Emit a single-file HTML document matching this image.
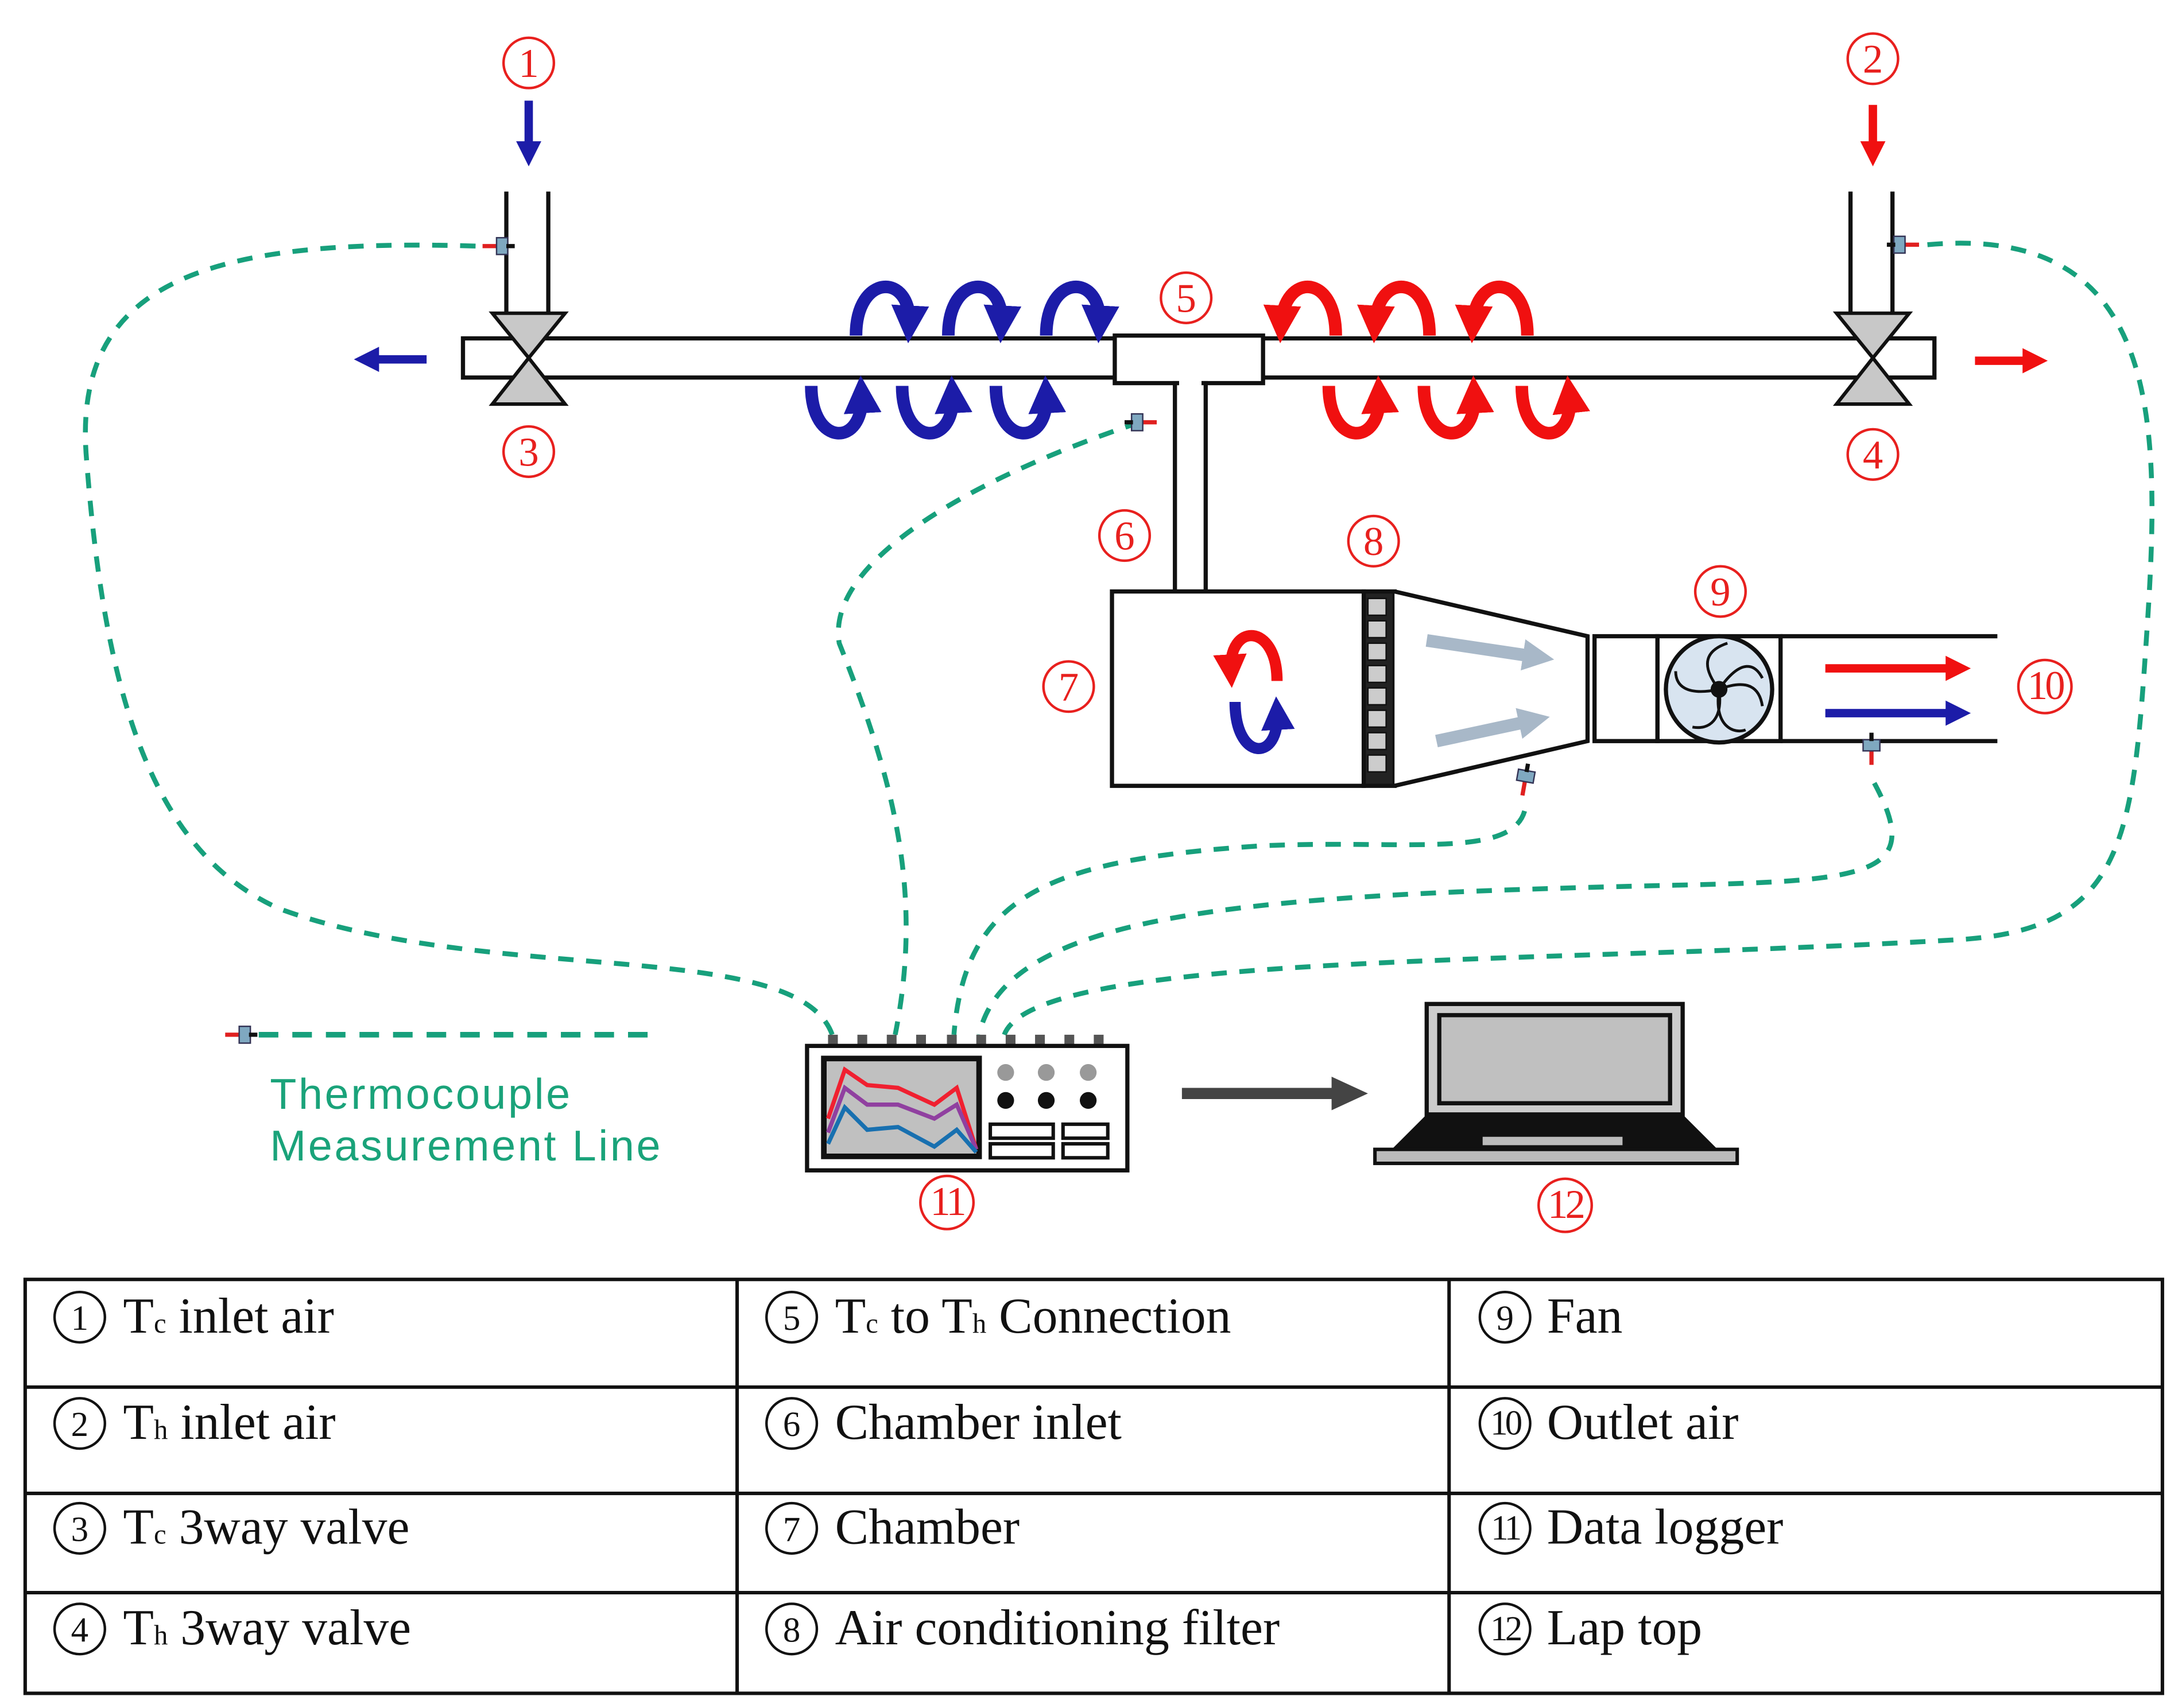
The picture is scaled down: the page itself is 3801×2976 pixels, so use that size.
<!DOCTYPE html>
<html><head><meta charset="utf-8"><style>
html,body{margin:0;padding:0;background:#fff;}
svg{display:block;}
.lt{font-family:"Liberation Serif","DejaVu Serif",serif;fill:#e8201e;font-size:29px;text-anchor:middle;}
.lc{fill:none;stroke:#e8201e;stroke-width:1.8;}
.tt{font-family:"Liberation Serif","DejaVu Serif",serif;font-size:25px;fill:#111;text-anchor:middle;}
.tc{fill:none;stroke:#111;stroke-width:1.8;}
.tb{font-family:"Liberation Serif","DejaVu Serif",serif;font-size:36px;fill:#111;}
.dl{fill:none;stroke:#17a07c;stroke-width:3.5;stroke-dasharray:11 9;}
</style></head><body>
<svg width="3801" height="2976" viewBox="0 0 1560 1221.5" preserveAspectRatio="none" xmlns="http://www.w3.org/2000/svg">
<defs>
<marker id="ab" viewBox="0 0 10 10" refX="5" refY="5" markerWidth="3" markerHeight="3" orient="auto"><path d="M0,0L10,5L0,10z" fill="#1c1ca8"/></marker>
<marker id="ar" viewBox="0 0 10 10" refX="5" refY="5" markerWidth="3" markerHeight="3" orient="auto"><path d="M0,0L10,5L0,10z" fill="#f01010"/></marker>
<marker id="ag" viewBox="0 0 10 10" refX="5" refY="5" markerWidth="2.5" markerHeight="2.5" orient="auto"><path d="M0,0L10,5L0,10z" fill="#a8b8c8"/></marker>
<g id="sens"><rect x="-3" y="-1.5" width="12" height="3" fill="#e02020"/><rect x="-9" y="-6" width="8" height="12" fill="#7fa8c0" stroke="#335" stroke-width="1"/><rect x="-14" y="-1.5" width="6" height="3" fill="#111"/></g>
</defs>
<rect width="1560" height="1222" fill="#fff"/>

<path class="dl" d="M340,176 C150,170 50,200 62,330 C75,500 110,610 200,650 C350,705 570,670 595,740"/>
<path class="dl" d="M815,302 C700,340 590,400 600,460 C640,560 660,640 640,740"/>
<path class="dl" d="M1090,580 C1080,615 1000,600 900,605 C750,615 690,640 682,740"/>
<path class="dl" d="M1340,560 C1375,625 1340,630 1200,633 C900,640 720,650 700,740"/>
<path class="dl" d="M1378,175 C1545,160 1545,300 1535,450 C1525,600 1520,665 1400,672 C1100,690 740,680 718,740"/>

<g fill="#fff" stroke="#111" stroke-width="3">
<line x1="362" y1="137" x2="362" y2="225"/><line x1="392" y1="137" x2="392" y2="225"/>
<line x1="1323" y1="137" x2="1323" y2="225"/><line x1="1353" y1="137" x2="1353" y2="225"/>
<rect x="331" y="242" width="1052" height="28"/>
<rect x="797" y="240" width="106" height="34"/>
<rect x="840" y="274" width="22" height="149"/>
</g>
<rect x="800" y="243" width="100" height="28" fill="#fff"/>
<rect x="843" y="268" width="16" height="10" fill="#fff"/>
<g fill="#c8c8c8" stroke="#111" stroke-width="2.5">
<path d="M352,224 L404,224 L378,256 Z"/><path d="M352,289 L404,289 L378,256 Z"/>
<path d="M1313,224 L1365,224 L1339,256 Z"/><path d="M1313,289 L1365,289 L1339,256 Z"/>
</g>
<use href="#sens" x="340" y="176" transform="rotate(180 347 176)"/>
<use href="#sens" x="1363" y="175"/>
<use href="#sens" x="818" y="302"/>

<line x1="378" y1="72" x2="378" y2="110" stroke="#1c1ca8" stroke-width="6" marker-end="url(#ab)"/>
<line x1="1339" y1="75" x2="1339" y2="110" stroke="#f01010" stroke-width="6" marker-end="url(#ar)"/>
<line x1="305" y1="257" x2="262" y2="257" stroke="#1c1ca8" stroke-width="6" marker-end="url(#ab)"/>
<line x1="1412" y1="258" x2="1455" y2="258" stroke="#f01010" stroke-width="6" marker-end="url(#ar)"/>

<g fill="none" stroke="#1c1ca8" stroke-width="9" marker-end="url(#ab)">
<path d="M612,240 C612,195 652,195 650,232"/>
<path d="M678,240 C678,195 718,195 716,232"/>
<path d="M748,240 C748,195 788,195 786,232"/>
<path d="M580,276 C580,320 618,320 616,282"/>
<path d="M645,276 C645,320 683,320 681,282"/>
<path d="M712,276 C712,320 750,320 748,282"/>
</g>
<g fill="none" stroke="#f01010" stroke-width="9" marker-end="url(#ar)">
<path d="M955,240 C955,195 918,195 916,232"/>
<path d="M1022,240 C1022,195 985,195 983,232"/>
<path d="M1092,240 C1092,195 1055,195 1053,232"/>
<path d="M950,276 C950,320 988,320 986,282"/>
<path d="M1018,276 C1018,320 1056,320 1054,282"/>
<path d="M1088,276 C1088,320 1126,320 1122,282"/>
</g>

<rect x="795" y="423" width="180" height="139" fill="#fff" stroke="#111" stroke-width="3"/>
<rect x="975" y="423" width="22" height="139" fill="#222" stroke="#111" stroke-width="3"/>
<g fill="#ccc" stroke="#111" stroke-width="1">
<rect x="978" y="428" width="13" height="12"/><rect x="978" y="444" width="13" height="12"/><rect x="978" y="460" width="13" height="12"/><rect x="978" y="476" width="13" height="12"/><rect x="978" y="492" width="13" height="12"/><rect x="978" y="508" width="13" height="12"/><rect x="978" y="524" width="13" height="12"/><rect x="978" y="540" width="13" height="12"/>
</g>
<path d="M997,423 L1135,455 L1135,530 L997,562" fill="#fff" stroke="#111" stroke-width="3"/>
<rect x="1140" y="455" width="45" height="75" fill="#fff" stroke="#111" stroke-width="3"/>
<rect x="1185" y="455" width="88" height="75" fill="#fff" stroke="#111" stroke-width="3"/>
<line x1="1273" y1="455" x2="1428" y2="455" stroke="#111" stroke-width="3"/>
<line x1="1273" y1="530" x2="1428" y2="530" stroke="#111" stroke-width="3"/>
<line x1="1020" y1="458" x2="1100" y2="470" stroke="#a8b8c8" stroke-width="9" marker-end="url(#ag)"/>
<line x1="1027" y1="530" x2="1097" y2="515" stroke="#a8b8c8" stroke-width="9" marker-end="url(#ag)"/>
<circle cx="1229" cy="493" r="38" fill="#d8e4f0" stroke="#111" stroke-width="3"/>
<g stroke="#111" stroke-width="2" fill="none">
<path d="M1229,493 C1215,475 1220,465 1235,460"/><path d="M1229,493 C1250,485 1258,492 1260,505"/>
<path d="M1229,493 C1232,515 1222,522 1210,520"/><path d="M1229,493 C1205,498 1198,490 1198,480"/>
<path d="M1229,493 C1245,470 1255,475 1260,485"/><path d="M1229,493 C1225,520 1240,525 1248,522"/>
</g>
<circle cx="1229" cy="493" r="6" fill="#111"/>
<line x1="1305" y1="478" x2="1400" y2="478" stroke="#f01010" stroke-width="6" marker-end="url(#ar)"/>
<line x1="1305" y1="510" x2="1400" y2="510" stroke="#1c1ca8" stroke-width="6" marker-end="url(#ab)"/>
<path d="M913,487 C913,445 878,445 880,480" fill="none" stroke="#f01010" stroke-width="8" marker-end="url(#ar)"/>
<path d="M883,502 C883,545 915,545 913,510" fill="none" stroke="#1c1ca8" stroke-width="8" marker-end="url(#ab)"/>
<use href="#sens" x="0" y="0" transform="translate(1090,560) rotate(100)"/>
<use href="#sens" x="0" y="0" transform="translate(1338,538) rotate(90)"/>

<g fill="#555"><rect x="592" y="740" width="7" height="9"/><rect x="613" y="740" width="7" height="9"/><rect x="634" y="740" width="7" height="9"/><rect x="655" y="740" width="7" height="9"/><rect x="677" y="740" width="7" height="9"/><rect x="698" y="740" width="7" height="9"/><rect x="719" y="740" width="7" height="9"/><rect x="740" y="740" width="7" height="9"/><rect x="761" y="740" width="7" height="9"/><rect x="782" y="740" width="7" height="9"/></g>
<rect x="577" y="748" width="229" height="89" fill="#fff" stroke="#111" stroke-width="3"/>
<rect x="589" y="757" width="111" height="70" fill="#c0c0c0" stroke="#111" stroke-width="4"/>
<path d="M592,800 L604,765 L620,776 L642,778 L668,790 L684,778 L698,822" fill="none" stroke="#f02030" stroke-width="3"/>
<path d="M592,810 L604,778 L620,790 L642,790 L668,800 L684,790 L698,822" fill="none" stroke="#9040a0" stroke-width="3"/>
<path d="M592,818 L604,792 L620,808 L642,806 L668,820 L684,808 L698,824" fill="none" stroke="#1870b0" stroke-width="3"/>
<circle cx="719" cy="767" r="6" fill="#999"/><circle cx="748" cy="767" r="6" fill="#999"/><circle cx="778" cy="767" r="6" fill="#999"/>
<circle cx="719" cy="787" r="6" fill="#111"/><circle cx="748" cy="787" r="6" fill="#111"/><circle cx="778" cy="787" r="6" fill="#111"/>
<g fill="#fff" stroke="#111" stroke-width="2.5"><rect x="708" y="804" width="45" height="10"/><rect x="760" y="804" width="32" height="10"/><rect x="708" y="818" width="45" height="10"/><rect x="760" y="818" width="32" height="10"/></g>
<line x1="845" y1="782" x2="955" y2="782" stroke="#444" stroke-width="8"/>
<path d="M952,770 L978,782 L952,794 Z" fill="#444"/>
<rect x="1020" y="718" width="183" height="79" fill="#ccc" stroke="#111" stroke-width="3"/>
<rect x="1029" y="726" width="165" height="63" fill="#c0c0c0" stroke="#111" stroke-width="3"/>
<path d="M1020,797 L1203,797 L1228,822 L995,822 Z" fill="#111"/>
<rect x="1060" y="813" width="100" height="6" fill="#bbb"/>
<rect x="983" y="822" width="259" height="10" fill="#bbb" stroke="#111" stroke-width="2.5"/>

<use href="#sens" x="160" y="740" transform="rotate(180 165 740)"/>
<line x1="185" y1="740" x2="472" y2="740" stroke="#17a07c" stroke-width="4" stroke-dasharray="14 10"/>
<text x="193" y="793" font-family="Liberation Sans,DejaVu Sans,sans-serif" font-size="31" letter-spacing="1.5" fill="#1aa37a">Thermocouple</text>
<text x="193" y="830" font-family="Liberation Sans,DejaVu Sans,sans-serif" font-size="31" letter-spacing="1.5" fill="#1aa37a">Measurement Line</text>

<!-- red circled labels -->
<g>
<circle class="lc" cx="378" cy="45" r="18"/><text class="lt" x="378" y="55">1</text>
<circle class="lc" cx="1339" cy="42" r="18"/><text class="lt" x="1339" y="52">2</text>
<circle class="lc" cx="378" cy="323" r="18"/><text class="lt" x="378" y="333">3</text>
<circle class="lc" cx="1339" cy="325" r="18"/><text class="lt" x="1339" y="335">4</text>
<circle class="lc" cx="848" cy="213" r="18"/><text class="lt" x="848" y="223">5</text>
<circle class="lc" cx="804" cy="383" r="18"/><text class="lt" x="804" y="393">6</text>
<circle class="lc" cx="764" cy="491" r="18"/><text class="lt" x="764" y="501">7</text>
<circle class="lc" cx="982" cy="387" r="18"/><text class="lt" x="982" y="397">8</text>
<circle class="lc" cx="1230" cy="423" r="18"/><text class="lt" x="1230" y="433">9</text>
<circle class="lc" cx="1462" cy="491" r="19"/><text class="lt" x="1462" y="500" font-size="24" letter-spacing="-2">10</text>
<circle class="lc" cx="677" cy="860" r="19"/><text class="lt" x="677" y="869" font-size="24" letter-spacing="-2">11</text>
<circle class="lc" cx="1119" cy="862" r="19"/><text class="lt" x="1119" y="871" font-size="24" letter-spacing="-2">12</text>
</g>

<g stroke="#111" stroke-width="2.5" fill="none">
<rect x="18" y="915" width="1528" height="296"/>
<line x1="18" y1="992" x2="1546" y2="992"/><line x1="18" y1="1068" x2="1546" y2="1068"/><line x1="18" y1="1139" x2="1546" y2="1139"/>
<line x1="527" y1="915" x2="527" y2="1211"/><line x1="1036" y1="915" x2="1036" y2="1211"/>
</g>
<g>
<circle class="tc" cx="57" cy="942" r="18"/><text class="tt" x="57" y="951">1</text>
<circle class="tc" cx="57" cy="1018" r="18"/><text class="tt" x="57" y="1027">2</text>
<circle class="tc" cx="57" cy="1093" r="18"/><text class="tt" x="57" y="1102">3</text>
<circle class="tc" cx="57" cy="1165" r="18"/><text class="tt" x="57" y="1174">4</text>
<circle class="tc" cx="566" cy="942" r="18"/><text class="tt" x="566" y="951">5</text>
<circle class="tc" cx="566" cy="1018" r="18"/><text class="tt" x="566" y="1027">6</text>
<circle class="tc" cx="566" cy="1093" r="18"/><text class="tt" x="566" y="1102">7</text>
<circle class="tc" cx="566" cy="1165" r="18"/><text class="tt" x="566" y="1174">8</text>
<circle class="tc" cx="1076" cy="942" r="18"/><text class="tt" x="1076" y="951">9</text>
<circle class="tc" cx="1076" cy="1018" r="18"/><text class="tt" x="1076" y="1026" font-size="21" letter-spacing="-2">10</text>
<circle class="tc" cx="1076" cy="1093" r="18"/><text class="tt" x="1076" y="1101" font-size="21" letter-spacing="-2">11</text>
<circle class="tc" cx="1076" cy="1165" r="18"/><text class="tt" x="1076" y="1173" font-size="21" letter-spacing="-2">12</text>
</g>
<g class="tb">
<text x="88" y="953">T<tspan font-size="20">c</tspan> inlet air</text>
<text x="88" y="1029">T<tspan font-size="20">h</tspan> inlet air</text>
<text x="88" y="1104">T<tspan font-size="20">c</tspan> 3way valve</text>
<text x="88" y="1176">T<tspan font-size="20">h</tspan> 3way valve</text>
<text x="597" y="953">T<tspan font-size="20">c</tspan> to T<tspan font-size="20">h</tspan> Connection</text>
<text x="597" y="1029">Chamber inlet</text>
<text x="597" y="1104">Chamber</text>
<text x="597" y="1176">Air conditioning filter</text>
<text x="1106" y="953">Fan</text>
<text x="1106" y="1029">Outlet air</text>
<text x="1106" y="1104">Data logger</text>
<text x="1106" y="1176">Lap top</text>
</g>
</svg>
</body></html>
